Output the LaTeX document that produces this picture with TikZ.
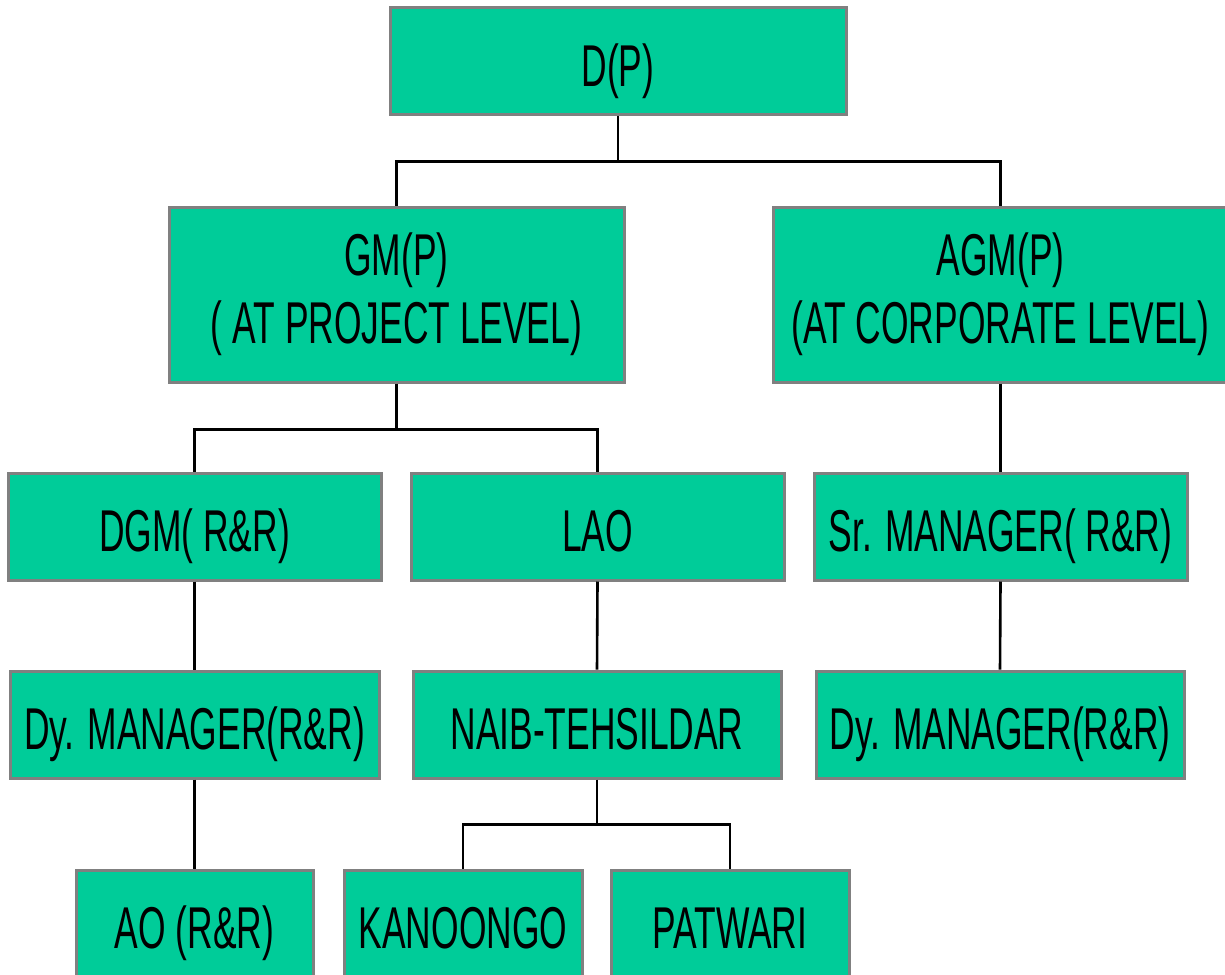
\documentclass[tikz,border=0pt]{standalone}
\usepackage{fontspec}
\setmainfont{Liberation Sans}[FakeStretch=0.6]
\usepackage{tikz}
\usetikzlibrary{positioning}
\definecolor{boxfill}{HTML}{00CC99}
\definecolor{boxedge}{HTML}{808080}

\begin{document}
\begin{tikzpicture}[x=0.5pt, y=-0.5pt,
			boxbase/.style={draw=boxedge, fill=boxfill, line width=1.5pt, inner sep=0pt,
				minimum height=53.5pt, align=center,
				font=\fontsize{29.5}{34}\selectfont},
			box/.style={boxbase, text height=25pt, text depth=0pt},
			tallbox/.style={boxbase, minimum height=87.5pt},
			link/.style={draw=black, line width=1.3pt}]
			\useasboundingbox (0,0) rectangle (1225,974);
			\node at (618,61.5) (dp) [box, minimum width=228pt] {D(P)};
			\node at (396.5,294.5) (gm) [tallbox, minimum width=227.5pt] {GM(P)\\( AT PROJECT LEVEL)};
			\node at (1000.5,294.5) (agm) [tallbox, minimum width=227pt] {AGM(P)\\(AT CORPORATE LEVEL)};
			\node at (194.5,526.5) (dgm) [box, minimum width=186.5pt] {DGM( R\&R)};
			\node at (597.5,526.5) (lao) [box, minimum width=186.5pt] {LAO};
			\node at (1000.5,526.5) (srm) [box, minimum width=186.5pt] {Sr. MANAGER( R\&R)};
			\node at (194.5,724.5) (dym) [box, minimum width=184.5pt] {Dy. MANAGER(R\&R)};
			\node at (597,724.5) (naib) [box, minimum width=184pt] {NAIB-TEHSILDAR};
			\node at (1000,724.5) (dymc) [box, minimum width=184pt] {Dy. MANAGER(R\&R)};
			\node at (194.5,923.5) (ao) [box, minimum width=118.5pt] {AO (R\&R)};
			\node at (463,923.5) (kan) [box, minimum width=119pt] {KANOONGO};
			\node at (730,923.5) (pat) [box, minimum width=119pt] {PATWARI};
			\draw[link] (dp.south) -- ++(0,45) coordinate (j1);
			\draw[link] (gm.north) |- (j1) -| (agm.north);
			\draw[link] (gm.south) -- ++(0,46) coordinate (j2);
			\draw[link] (dgm.north) |- (j2) -| (lao.north);
			\draw[link] (agm.south) -- (srm.north);
			\draw[link] (srm.south) -- (dymc.north);
			\draw[link] (dgm.south) -- (dym.north);
			\draw[link] (dym.south) -- (ao.north);
			\draw[link] (lao.south) -- (naib.north);
			\draw[link] (naib.south) -- ++(0,45) coordinate (j3);
			\draw[link] (kan.north) |- (j3) -| (pat.north);
		\end{tikzpicture}
\end{document}
